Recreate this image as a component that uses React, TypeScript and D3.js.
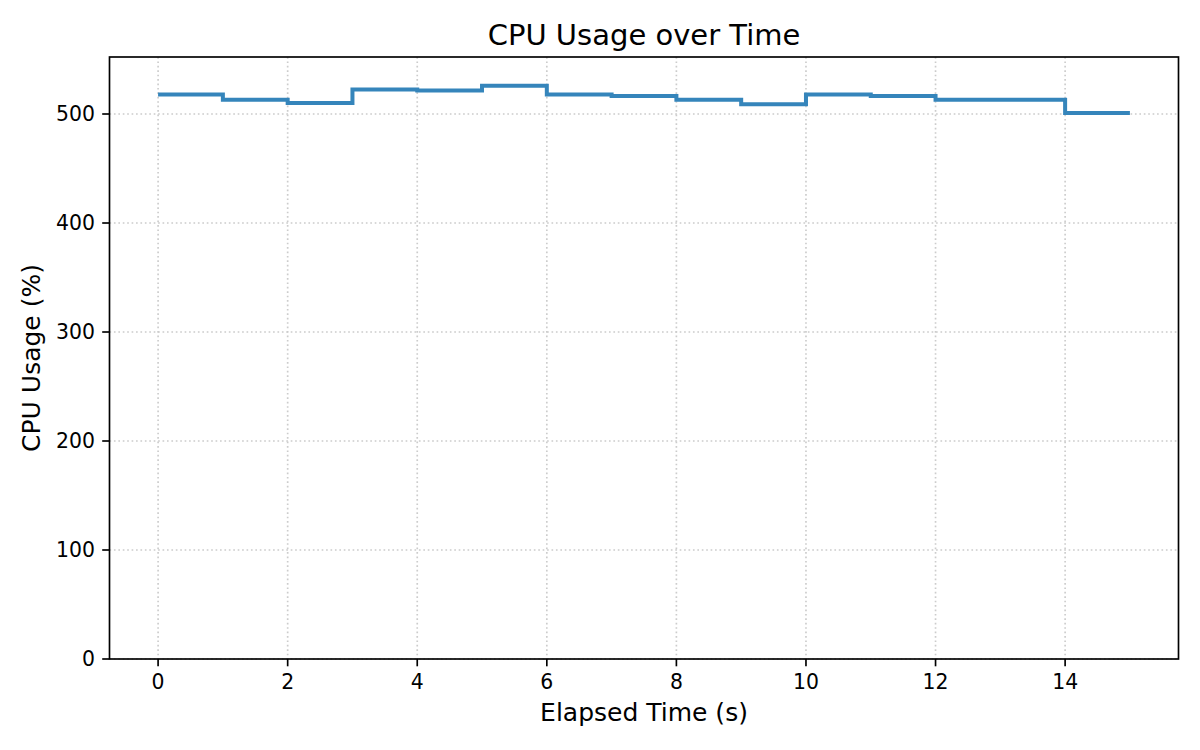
import * as d3 from 'd3';

// elapsed seconds and sampled CPU usage (%), drawn as a post-step line
const elapsed = [0, 1, 2, 3, 4, 5, 6, 7, 8, 9, 10, 11, 12, 13, 14, 15];
const cpuUsage = [518, 513, 510, 522.5, 521.5, 526, 518, 516.5, 513, 509, 518, 516.5, 513, 513, 501, 501];
const xTicks = [0, 2, 4, 6, 8, 10, 12, 14];
const yTicks = [0, 100, 200, 300, 400, 500];

const W = 1200;
const H = 750;
const margin = { top: 57, right: 21.5, bottom: 91, left: 109.5 };
const FONT = '"DejaVu Sans", sans-serif';

export default function App() {
  const innerW = W - margin.left - margin.right;
  const innerH = H - margin.top - margin.bottom;

  const xScale = d3.scaleLinear().domain([-0.75, 15.75]).range([0, innerW]);
  const yMax = (d3.max(cpuUsage) || 0) * 1.05;
  const yScale = d3.scaleLinear().domain([0, yMax]).range([innerH, 0]);

  const line = d3.line<number>()
    .x((_, i) => xScale(elapsed[i]))
    .y(d => yScale(d))
    .curve(d3.curveStepAfter);

  return (
    <svg width={W} height={H} style={{ position: 'absolute', left: 0, top: 0, background: '#fff' }} fontFamily={FONT}>
      <text x={margin.left + innerW / 2} y={44.5} textAnchor="middle" fontSize={29} fill="#000">
        CPU Usage over Time
      </text>
      <g transform={`translate(${margin.left},${margin.top})`}>
        {/* grid */}
        {xTicks.map(t => (
          <line key={'gx' + t} x1={xScale(t)} x2={xScale(t)} y1={0} y2={innerH}
            stroke="#cccccc" strokeWidth={1.67} strokeDasharray="1.67,2.75" />
        ))}
        {yTicks.map(t => (
          <line key={'gy' + t} x1={0} x2={innerW} y1={yScale(t)} y2={yScale(t)}
            stroke="#cccccc" strokeWidth={1.67} strokeDasharray="1.67,2.75" />
        ))}

        <path d={line(cpuUsage) || ''} fill="none" stroke="#3585bb" strokeWidth={4} strokeLinejoin="miter" />

        {/* frame */}
        <rect x={0} y={0} width={innerW} height={innerH} fill="none" stroke="#000" strokeWidth={1.67} />

        {/* x ticks */}
        {xTicks.map(t => (
          <g key={'tx' + t} transform={`translate(${xScale(t)},${innerH})`}>
            <line y1={0} y2={7.3} stroke="#000" strokeWidth={1.67} />
            <text y={30} textAnchor="middle" fontSize={20.4} fill="#000">{t}</text>
          </g>
        ))}
        {/* y ticks */}
        {yTicks.map(t => (
          <g key={'ty' + t} transform={`translate(0,${yScale(t)})`}>
            <line x1={-7.3} x2={0} stroke="#000" strokeWidth={1.67} />
            <text x={-14.6} dy="0.35em" textAnchor="end" fontSize={20.4} fill="#000">{t}</text>
          </g>
        ))}
      </g>

      <text x={margin.left + innerW / 2} y={721} textAnchor="middle" fontSize={25} fill="#000">
        Elapsed Time (s)
      </text>
      <text transform={`translate(40,${margin.top + innerH / 2}) rotate(-90)`} textAnchor="middle" fontSize={25} fill="#000">
        CPU Usage (%)
      </text>
    </svg>
  );
}
